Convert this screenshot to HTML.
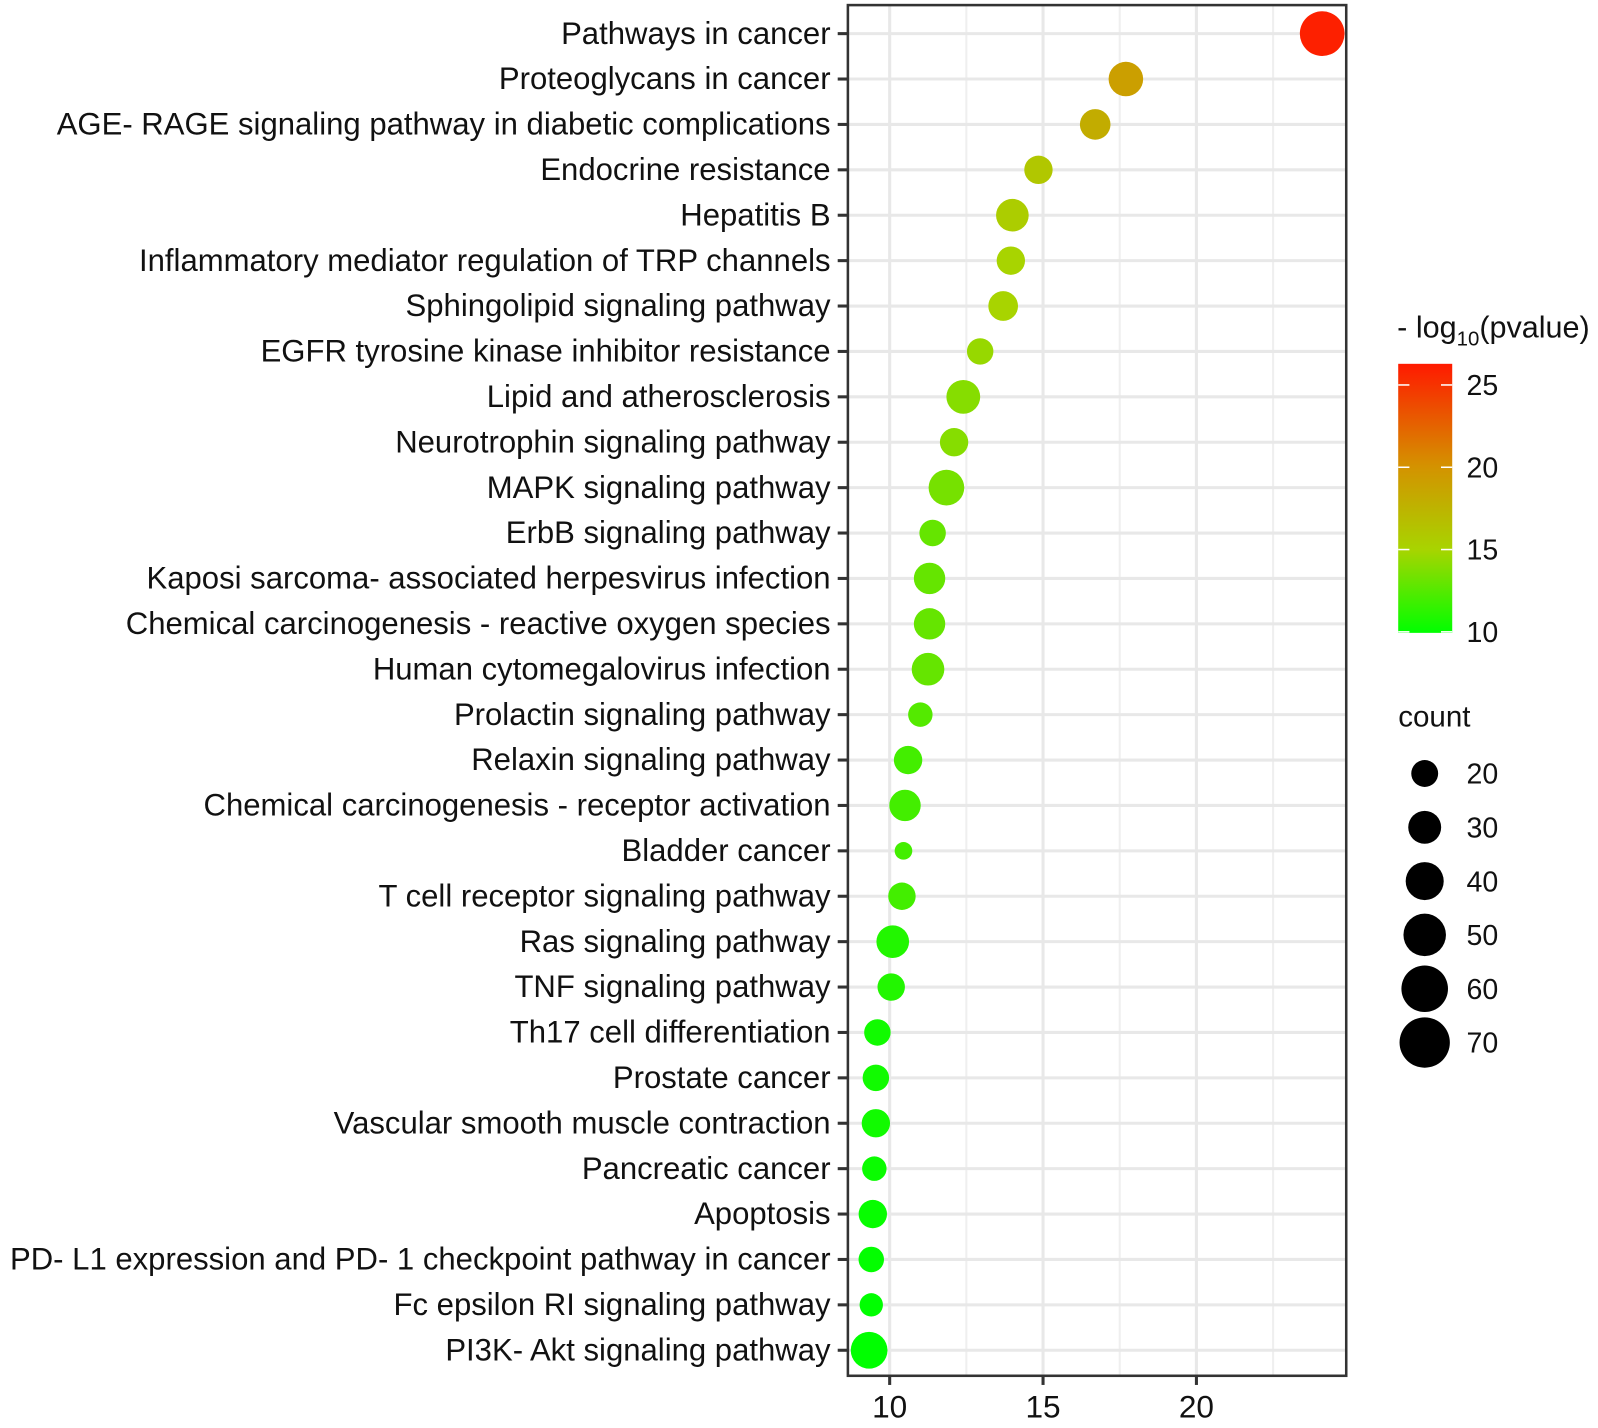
<!DOCTYPE html>
<html><head><meta charset="utf-8"><style>
body{margin:0;background:#fff}
svg text{font-family:"Liberation Sans",Arial,sans-serif;fill:#111}
</style></head><body>
<svg width="1598" height="1423" xmlns="http://www.w3.org/2000/svg">
<defs><linearGradient id="cg" x1="0" y1="1" x2="0" y2="0">
<stop offset="0" stop-color="#00ff00"/><stop offset="0.31" stop-color="#a8d400"/><stop offset="0.62" stop-color="#d49200"/><stop offset="1" stop-color="#ff1a00"/>
</linearGradient></defs>
<g id="chart" transform="scale(1.0191)"></g>
</svg>
<script>
const categories=["Pathways in cancer","Proteoglycans in cancer","AGE- RAGE signaling pathway in diabetic complications","Endocrine resistance","Hepatitis B","Inflammatory mediator regulation of TRP channels","Sphingolipid signaling pathway","EGFR tyrosine kinase inhibitor resistance","Lipid and atherosclerosis","Neurotrophin signaling pathway","MAPK signaling pathway","ErbB signaling pathway","Kaposi sarcoma- associated herpesvirus infection","Chemical carcinogenesis -  reactive oxygen species","Human cytomegalovirus infection","Prolactin signaling pathway","Relaxin signaling pathway","Chemical carcinogenesis -  receptor activation","Bladder cancer","T cell receptor signaling pathway","Ras signaling pathway","TNF signaling pathway","Th17 cell differentiation","Prostate cancer","Vascular smooth muscle contraction","Pancreatic cancer","Apoptosis","PD- L1 expression and PD- 1 checkpoint pathway in cancer","Fc epsilon RI signaling pathway","PI3K- Akt signaling pathway"];
const xValues=[24.1,17.7,16.7,14.85,14.0,13.95,13.7,12.95,12.4,12.1,11.85,11.4,11.3,11.3,11.25,11.0,10.6,10.5,10.45,10.4,10.1,10.05,9.6,9.55,9.55,9.5,9.45,9.4,9.4,9.33];
const counts=[77,46,36,31,41,31,34,27,44,31,49,27,38,38,41,23,31,38,12,29,41,29,27,27,31,23,31,25,21,52];
const pvals=[26,19,18,16,15.5,15,15,14.5,14,14,13.5,13,13,13,13,12.5,12,12,12,12,11,11,10.5,10.5,10.5,10.3,10.2,10.1,10,10];
const xTicks=[10,15,20];
const xMinor=[12.5,17.5,22.5];
const colorTicks=[10,15,20,25];
const sizeBreaks=[20,30,40,50,60,70];

const NS="http://www.w3.org/2000/svg";
const svg=document.getElementById('chart');
function mk(t,a,p){const e=document.createElementNS(NS,t);for(const k in a)e.setAttribute(k,a[k]);(p||svg).appendChild(e);return e;}
const PL=832,PR=1321,PT=5,PB=1350;
const xs=v=>873+(v-10)*30.1;
const ys=i=>33+i*44.55;
const rs=c=>2.5*Math.sqrt(c);
const stops=[[10,[0,255,0]],[15,[168,212,0]],[20,[212,146,0]],[26.3,[255,26,0]]];
function col(v){v=Math.max(10,Math.min(26.3,v));for(let i=0;i<stops.length-1;i++){const[a,ca]=stops[i],[b,cb]=stops[i+1];if(v<=b){const t=(v-a)/(b-a);return'rgb('+ca.map((c,j)=>Math.round(c+(cb[j]-c)*t)).join(',')+')';}}return'red';}

const grid=mk('g',{});


xMinor.forEach(v=>mk('line',{x1:xs(v),x2:xs(v),y1:PT,y2:PB,stroke:'#efefef','stroke-width':2},grid));
xTicks.forEach(v=>mk('line',{x1:xs(v),x2:xs(v),y1:PT,y2:PB,stroke:'#e8e8e8','stroke-width':3},grid));
categories.forEach((c,i)=>mk('line',{x1:PL,x2:PR,y1:ys(i),y2:ys(i),stroke:'#e8e8e8','stroke-width':3},grid));

categories.forEach((c,i)=>{
 const t=mk('text',{x:815,y:ys(i)+10,'text-anchor':'end','font-size':30.5});
 t.textContent=c;
 
 
 mk('line',{x1:822,x2:832,y1:ys(i),y2:ys(i),stroke:'#333','stroke-width':3});
 const d=mk('circle',{cx:xs(xValues[i]),cy:ys(i),r:rs(counts[i]),fill:col(pvals[i])});
 
 
});
const frame=mk('rect',{x:PL,y:PT,width:PR-PL,height:PB-PT,fill:'none',stroke:'#333','stroke-width':2.5});


xTicks.forEach(v=>{
 mk('line',{x1:xs(v),x2:xs(v),y1:PB,y2:PB+9,stroke:'#333','stroke-width':3});
 const t=mk('text',{x:xs(v),y:1391,'text-anchor':'middle','font-size':31});
 t.textContent=v;
 
 
});
// color legend
const lt=mk('text',{x:1371,y:331,'font-size':30});
lt.innerHTML='- log<tspan font-size="20" dy="8">10</tspan><tspan dy="-8">(pvalue)</tspan>';


const cb=mk('rect',{x:1372,y:357,width:53,height:264,fill:'url(#cg)'});


const cy=v=>620-(v-10)*16.15;
colorTicks.forEach(v=>{
 mk('line',{x1:1372,x2:1383,y1:cy(v),y2:cy(v),stroke:'#fff','stroke-width':1.5});
 mk('line',{x1:1414,x2:1425,y1:cy(v),y2:cy(v),stroke:'#fff','stroke-width':1.5});
 const t=mk('text',{x:1439,y:cy(v)+10,'font-size':28});
 t.textContent=v;
 
 
});
const st=mk('text',{x:1372,y:713,'font-size':29});
st.textContent='count';


sizeBreaks.forEach((s,i)=>{
 const y=759+i*52.8;
 const c=mk('circle',{cx:1398,cy:y,r:rs(s)*1.18,fill:'#000'});
 
 
 const t=mk('text',{x:1439,y:y+10,'font-size':28});
 t.textContent=s;
 
 
});
</script>
</body></html>
